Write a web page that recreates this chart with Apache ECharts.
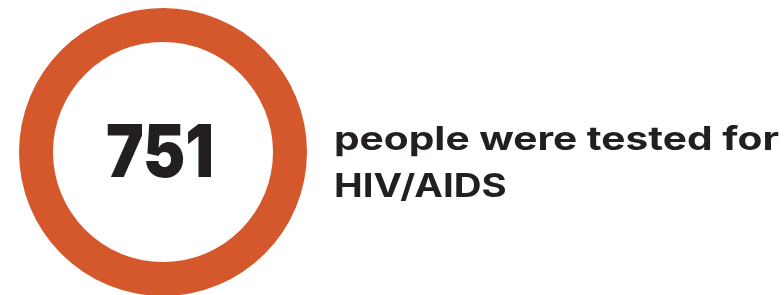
<!DOCTYPE html>
<html>
<head>
<meta charset="utf-8">
<script src="https://cdn.jsdelivr.net/npm/echarts@6/dist/echarts.min.js"></script>
<style>html,body{margin:0;padding:0;background:#fff}#c{width:784px;height:295px}</style>
</head>
<body>
<div id="c"></div>
<script>
const ringValues = [751];
const ringLabels = ['751'];
const captionLines = ['people were tested for', 'HIV/AIDS'];

const chart = echarts.init(document.getElementById('c'), null, {renderer: 'canvas'});
chart.setOption({
  backgroundColor: '#ffffff',
  animation: false,
  series: [{
    type: 'pie',
    silent: true,
    center: [163, 152],
    radius: [110, 144],
    label: {show: false},
    labelLine: {show: false},
    itemStyle: {color: '#D4582B'},
    data: ringValues.map((v, i) => ({value: v, name: ringLabels[i]}))
  }],
  graphic: [
    {type: 'text', x: 160, y: 155, scaleX: 0.87, style: {x: 0, y: 0, text: ringLabels[0], align: 'center', verticalAlign: 'middle',
      font: '900 73px Inter', fill: '#231F20'}},
    {type: 'text', x: 334, y: 140, scaleX: 1.27, style: {x: 0, y: 0, text: captionLines[0], align: 'left', verticalAlign: 'middle',
      font: '700 32px Inter', fill: '#231F20'}},
    {type: 'text', x: 334, y: 187, scaleX: 1.2, style: {x: 0, y: 0, text: captionLines[1], align: 'left', verticalAlign: 'middle',
      font: '700 32px Inter', fill: '#231F20'}}
  ]
});
</script>
</body>
</html>
